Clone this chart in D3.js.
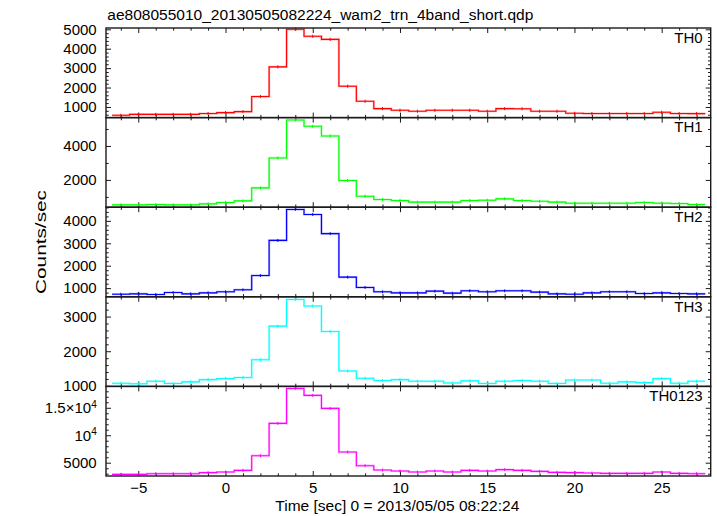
<!DOCTYPE html>
<html><head><meta charset="utf-8">
<script src="https://cdn.jsdelivr.net/npm/d3@7"></script>
<style>
body{margin:0;background:#fff}
svg{display:block}
text{font-family:"Liberation Sans",Arial,Helvetica,sans-serif;fill:#000}
</style>
</head><body>
<svg id="c" width="717" height="516"></svg>
<script>
// ---------------- data ----------------
const titleText = "ae808055010_20130505082224_wam2_trn_4band_short.qdp";
const xLabelText = "Time [sec] 0 = 2013/05/05 08:22:24";
const yLabelText = "Counts/sec";

const timeBins = [-6,-5,-4,-3,-2,-1,0,1,2,3,4,5,6,7,8,9,10,11,12,13,14,15,16,17,18,19,20,21,22,23,24,25,26,27];
const binWidth = 1;

const th0 = [570,620,620,620,620,660,710,760,1535,3065,5000,4640,4480,2070,
             1295,915,830,780,830,830,830,780,915,905,780,780,675,660,660,660,660,725,660,655];
const th1 = [530,530,550,530,530,590,670,765,1530,3295,5530,5160,4590,1965,
             1040,845,785,690,690,690,785,805,885,785,745,690,630,630,630,630,670,630,610,550];
const th2 = [730,745,715,805,745,790,835,925,1560,3130,4510,4285,3430,1490,
             1030,835,790,790,865,775,880,835,880,880,820,745,730,790,835,835,760,790,760,745];
const th3 = [1075,1060,1135,1070,1115,1180,1210,1240,1755,2725,3495,3305,2570,1430,
             1220,1155,1180,1135,1135,1085,1145,1070,1135,1155,1135,1070,1170,1170,1075,1115,1095,1210,1075,1135];
const th0123 = [2885,2885,3005,3005,3005,3190,3310,3610,6280,12160,18520,17250,14885,6945,
                4460,3675,3490,3310,3490,3310,3610,3490,3735,3610,3430,3250,3190,3125,3065,3065,3065,3310,3065,3005];

const panelNames = ["TH0","TH1","TH2","TH3","TH0123"];
const panelColors = ["#ff0000","#00ff00","#0000ff","#00ffff","#ff00ff"];
const panelErrors = [80, 90, 65, 45, 270];
const yDomains = [[452,5067],[394,5670],[613,4610],[985,3571],[2582,18890]];
const yMajorTicks = [
  [1000,2000,3000,4000,5000],
  [2000,4000],
  [1000,2000,3000,4000],
  [1000,2000,3000],
  [5000,10000,15000]
];
const yMinorSteps = [200,1000,200,200,1000];
const xDomain = [-6.85, 27.81];
const xMajorTicks = [-5,0,5,10,15,20,25];
const xMinorStep = 1;

// ---------------- layout ----------------
const svg = d3.select("#c");
const plotLeft = 106, plotRight = 710.7, plotTop = 28, panelH = 89.6;
const seriesList = [th0, th1, th2, th3, th0123];

const x = d3.scaleLinear().domain(xDomain).range([plotLeft, plotRight]);
const xMinor = d3.range(Math.ceil(xDomain[0]), Math.floor(xDomain[1]) + 1, xMinorStep)
  .filter(v => !xMajorTicks.includes(v));

function minorTicks(domain, step, majors) {
  const out = [];
  for (let v = Math.ceil(domain[0] / step) * step; v <= domain[1]; v += step) {
    if (!majors.includes(v)) out.push(v);
  }
  return out;
}

const frameColor = "#1a1a1a";
const fontFam = '"Liberation Sans",Arial,sans-serif';

seriesList.forEach((vals, p) => {
  const y0 = plotTop + p * panelH, y1 = y0 + panelH;
  const y = d3.scaleLinear().domain(yDomains[p]).range([y1, y0]);
  const g = svg.append("g");
  const majY = yMajorTicks[p];
  const minY = minorTicks(yDomains[p], yMinorSteps[p], majY);

  const styleAxis = sel => {
    sel.select(".domain").remove();
    sel.selectAll(".tick line").attr("stroke", frameColor).attr("stroke-width", 1);
  };

  const isLast = p === seriesList.length - 1;
  const bx = g.append("g").attr("transform", `translate(0,${y1})`)
    .call(d3.axisBottom(x).tickValues(xMajorTicks).tickSize(-5).tickPadding(6.6)
      .tickFormat(isLast ? d3.format("") : () => ""))
    .call(styleAxis);
  bx.selectAll("text").attr("font-size", 15).attr("font-family", fontFam).attr("fill", "#000");
  g.append("g").attr("transform", `translate(0,${y1})`)
    .call(d3.axisBottom(x).tickValues(xMinor).tickSize(-2.7).tickFormat(() => ""))
    .call(styleAxis);
  g.append("g").attr("transform", `translate(0,${y0})`)
    .call(d3.axisTop(x).tickValues(xMajorTicks).tickSize(-5).tickFormat(() => ""))
    .call(styleAxis);
  g.append("g").attr("transform", `translate(0,${y0})`)
    .call(d3.axisTop(x).tickValues(xMinor).tickSize(-2.7).tickFormat(() => ""))
    .call(styleAxis);

  const leftAx = g.append("g").attr("transform", `translate(${plotLeft},0)`)
    .call(d3.axisLeft(y).tickValues(majY).tickSize(-5).tickPadding(9.3).tickFormat(d => String(d)))
    .call(styleAxis);
  leftAx.selectAll("text").attr("font-size", 15).attr("fill", "#000").attr("font-family", fontFam);
  if (p === 4) {
    leftAx.selectAll("text").each(function(d) {
      const t = d3.select(this);
      if (d === 10000 || d === 15000) {
        t.text(d === 15000 ? "1.5\u00d710" : "10");
        t.append("tspan").attr("font-size", 10).attr("dy", "-0.55em").text("4");
      }
    });
  }
  g.append("g").attr("transform", `translate(${plotLeft},0)`)
    .call(d3.axisLeft(y).tickValues(minY).tickSize(-2.7).tickFormat(() => ""))
    .call(styleAxis);
  g.append("g").attr("transform", `translate(${plotRight},0)`)
    .call(d3.axisRight(y).tickValues(majY).tickSize(-5).tickFormat(() => ""))
    .call(styleAxis);
  g.append("g").attr("transform", `translate(${plotRight},0)`)
    .call(d3.axisRight(y).tickValues(minY).tickSize(-2.7).tickFormat(() => ""))
    .call(styleAxis);

  // step histogram
  const pts = [];
  timeBins.forEach((t, i) => {
    pts.push([t - binWidth / 2, vals[i]]);
    pts.push([t + binWidth / 2, vals[i]]);
  });
  const line = d3.line().x(d => x(d[0])).y(d => y(d[1]));
  g.append("path").datum(pts).attr("d", line)
    .attr("fill", "none").attr("stroke", panelColors[p]).attr("stroke-opacity", 0.3)
    .attr("stroke-width", 2.2);
  g.append("path").datum(pts).attr("d", line)
    .attr("fill", "none").attr("stroke", panelColors[p]).attr("stroke-width", 1.1);

  // error bars
  g.append("g").selectAll("line").data(timeBins).join("line")
    .attr("x1", d => x(d)).attr("x2", d => x(d))
    .attr("y1", (d, i) => y(vals[i] - panelErrors[p]))
    .attr("y2", (d, i) => y(vals[i] + panelErrors[p]))
    .attr("stroke", panelColors[p]).attr("stroke-width", 1);

  // frame
  g.append("rect").attr("x", plotLeft).attr("y", y0).attr("width", plotRight - plotLeft).attr("height", panelH)
    .attr("fill", "none").attr("stroke", frameColor).attr("stroke-width", 1.4);

  g.append("text").attr("x", 702.7).attr("y", y0 + 14.7).attr("text-anchor", "end")
    .attr("font-size", 15).text(panelNames[p]);
});

svg.append("text").attr("x", 107.3).attr("y", 20).attr("font-size", 15.5)
  .attr("textLength", 426).attr("lengthAdjust", "spacingAndGlyphs").text(titleText);
svg.append("text").attr("x", 275.3).attr("y", 511).attr("font-size", 15.5)
  .attr("textLength", 244).attr("lengthAdjust", "spacingAndGlyphs").text(xLabelText);
svg.append("text").attr("transform", "translate(46,242) rotate(-90)").attr("text-anchor", "middle")
  .attr("font-size", 15.5).attr("textLength", 104).attr("lengthAdjust", "spacingAndGlyphs").text(yLabelText);
</script>
</body></html>
